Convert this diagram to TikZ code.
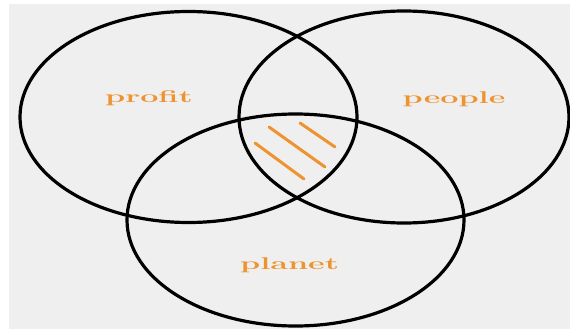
\documentclass[tikz,border=0pt]{standalone}
\usepackage{tikz}
\usetikzlibrary{shapes.geometric}
\definecolor{bggray}{HTML}{EFEFEF}
\definecolor{tbl}{HTML}{EE9330}

\begin{document}
\begin{tikzpicture}[x=1pt, y=-1pt,
	set/.style={ellipse, draw=black, line width=3.2pt, inner sep=0pt},
	tag/.style={text=tbl, font=\fontsize{17}{20}\selectfont\bfseries, xscale=1.9, anchor=base, inner sep=0pt},
	hatch/.style={draw=tbl, line width=3pt, line cap=round}]
			\useasboundingbox (0,0) rectangle (570,329);
			\fill[bggray] (9,4) rectangle (570,329);
			
			\node[set, minimum width=337pt, minimum height=211pt] (profitset) at (188.5,117){};
			\node[set, minimum width=330pt, minimum height=212pt] (peopleset) at (404,117){};
			\node[set, minimum width=337pt, minimum height=212pt] (planetset) at (295.5,220){};
			
			\node[tag] (profit) at (149,102) {profit};
			\node[tag] (people) at (454,103) {people};
			\node[tag] (planet) at (289.5,269) {planet};
			
			\path[hatch] (255,143) -- (304,179);
			\path[hatch] (269,127) -- (325,167);
			\path[hatch] (300,123) -- (335,147);
			\end{tikzpicture}
\end{document}
